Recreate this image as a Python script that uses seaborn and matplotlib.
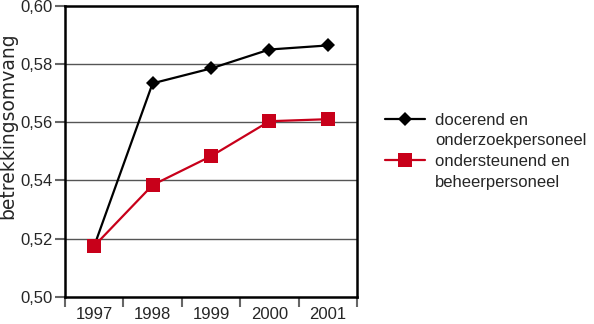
import matplotlib
matplotlib.use("Agg")
import matplotlib.pyplot as plt
import seaborn as sns
import pandas as pd
import numpy as np
from matplotlib.lines import Line2D

years = ["1997", "1998", "1999", "2000", "2001"]
docerend = [0.5175, 0.5733, 0.5784, 0.5849, 0.5863]
ondersteunend = [0.5175, 0.5384, 0.5483, 0.5603, 0.5610]
series_names = ["docerend en\nonderzoekpersoneel", "ondersteunend en\nbeheerpersoneel"]
yticks = [0.50, 0.52, 0.54, 0.56, 0.58, 0.60]

sns.set_theme(style="white")
plt.rcParams['font.family'] = ['Liberation Sans', 'DejaVu Sans']

df = pd.DataFrame({
    "x": list(range(len(years))) * 2,
    "y": docerend + ondersteunend,
    "serie": [series_names[0]] * len(years) + [series_names[1]] * len(years),
})

BLACK = "#000000"
RED = "#C8001A"

fig = plt.figure(figsize=(5.94, 3.24), dpi=100)
ax = fig.add_axes([65/594, 1 - 297/324, (357-65)/594, (297-5.5)/324])

for yv in yticks[1:-1]:
    ax.axhline(yv, color="#555555", lw=1.0, zorder=0)

palette = {series_names[0]: BLACK, series_names[1]: RED}
markers = {series_names[0]: "D", series_names[1]: "s"}
sns.lineplot(data=df, x="x", y="y", hue="serie", style="serie", palette=palette,
             markers=markers, dashes=False, ax=ax, lw=1.6, markersize=7,
             markeredgewidth=0, legend=False)
for line, ms in zip(ax.get_lines()[-2:], [7, 9.5]):
    line.set_markersize(ms)

ax.set_xlim(-0.5, len(years) - 0.5)
ax.set_ylim(0.50, 0.60)
ax.set_yticks(yticks)
ax.set_yticklabels([f"{v:.2f}".replace(".", ",") for v in yticks], fontsize=12)
ax.set_xticks(np.arange(-0.5, len(years), 1.0))
ax.set_xticklabels([])
ax.set_xticks(range(len(years)), minor=True)
ax.set_xticklabels(years, minor=True, fontsize=12)
ax.tick_params(axis="x", which="major", length=7, width=1.5, color="#666666", direction="out", bottom=True)
ax.tick_params(axis="x", which="minor", length=0, pad=7)
ax.tick_params(axis="y", length=7, width=1.5, color="#666666", direction="out", left=True, pad=2)
ax.set_xlabel("")
ax.set_ylabel("")
for s in ax.spines.values():
    s.set_visible(True)
    s.set_color("black")
    s.set_linewidth(1.8)

fig.text(8/594, 1 - 126/324, "betrekkingsomvang", rotation=90, ha="center", va="center",
         fontsize=13.5, family=["DejaVu Sans"])

blank = Line2D([0], [0], color="none", lw=0)
handles = [
    Line2D([0], [0], color=BLACK, lw=1.6, marker="D", markersize=7, markeredgewidth=0),
    blank,
    Line2D([0], [0], color=RED, lw=1.6, marker="s", markersize=9.5, markeredgewidth=0),
    blank,
]
labels = []
for name in series_names:
    labels.extend(name.split("\n"))
fig.legend(handles, labels, loc="center left", bbox_to_anchor=(385/594, 1 - 151/324),
           frameon=False, fontsize=12, handlelength=2.4, labelspacing=0.34, handletextpad=0.6,
           borderaxespad=0, borderpad=0)

fig.savefig("out.png", dpi=100)
